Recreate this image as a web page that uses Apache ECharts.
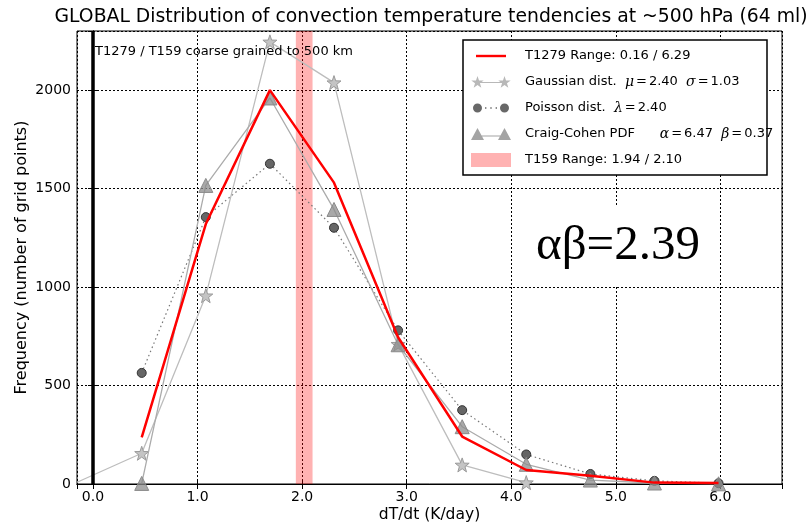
<!DOCTYPE html>
<html>
<head>
<meta charset="utf-8">
<script src="https://cdn.jsdelivr.net/npm/echarts@6/dist/echarts.min.js"></script>
<style>
html,body{margin:0;padding:0;background:#fff;}
#chart{width:810px;height:525px;}
</style>
</head>
<body>
<div id="chart"></div>
<script>
// ---------------- data ----------------
const binCentres = [0.466, 1.079, 1.692, 2.305, 2.918, 3.531, 4.144, 4.757, 5.370, 5.983];
const t1279Vals  = [237, 1320, 2000, 1530, 745, 241, 71, 42, 7, 5];
const gaussX     = [-0.147, 0.466, 1.079, 1.692, 2.305, 2.918, 3.531, 4.144];
const gaussVals  = [10, 156, 956, 2245, 2038, 710, 97, 7];
const poissonVals = [564, 1355, 1626, 1301, 780, 375, 150, 51, 16, 4];
const craigVals   = [3, 1516, 1960, 1394, 707, 291, 100, 20, 5, 1];
const t159Range   = [1.94, 2.10];
const zeroLineX   = 0;

const titleText = 'GLOBAL Distribution of convection temperature tendencies at ~500 hPa (64 ml)';
const noteText = 'T1279 / T159 coarse grained to 500 km';
const abText = 'αβ=2.39';
const xName = 'dT/dt (K/day)';
const yName = 'Frequency (number of grid points)';

const N_T1279 = 'T1279 Range: 0.16 / 6.29';
const N_GAUSS = 'Gaussian dist.';
const N_POIS  = 'Poisson dist.';
const N_CRAIG = 'Craig-Cohen PDF';
const N_T159  = 'T159 Range: 1.94 / 2.10';
const legendRich = {};
legendRich[N_T1279] = N_T1279;
legendRich[N_GAUSS] = '{s|Gaussian dist.  }{m|μ}{e|=}{s|2.40  }{m|σ}{e|=}{s|1.03}';
legendRich[N_POIS]  = '{s|Poisson dist.  }{m|λ}{e|=}{s|2.40}';
legendRich[N_CRAIG] = '{s|Craig-Cohen PDF      }{m|α}{e|=}{s|6.47  }{m|β}{e|=}{s|0.37}';
legendRich[N_T159]  = N_T159;

// ---------------- styling helpers ----------------
function starPath(cx, cy, R, r) {
  let d = '';
  for (let k = 0; k < 10; k++) {
    const rad = (k % 2 === 0) ? R : r;
    const a = (-90 + 36 * k) * Math.PI / 180;
    const x = (cx + rad * Math.cos(a)).toFixed(2);
    const y = (cy + rad * Math.sin(a)).toFixed(2);
    d += (k === 0 ? 'M' : 'L') + x + ',' + y;
  }
  return d + 'Z';
}
const starSymbol = 'path://' + starPath(50, 50, 50, 20);
const B = 'M0,0M40,14';
const iconRed = 'path://' + B + 'M5,5.8L35,5.8L35,8.2L5,8.2Z';
const iconStar = 'path://' + B + starPath(6.5, 7.5, 6.5, 2.6) + starPath(33.5, 7.5, 6.5, 2.6) + 'M6.5,6.9L33.5,6.9L33.5,7.9L6.5,7.9Z';
const iconCirc = 'path://' + B + 'M2,7A4.5,4.5,0,1,1,11,7A4.5,4.5,0,1,1,2,7Z' +
  'M29,7A4.5,4.5,0,1,1,38,7A4.5,4.5,0,1,1,29,7Z' +
  'M14,6.3L15.4,6.3L15.4,7.7L14,7.7Z M19.3,6.3L20.7,6.3L20.7,7.7L19.3,7.7Z M24.6,6.3L26,6.3L26,7.7L24.6,7.7Z';
const iconTri = 'path://' + B + 'M6.5,1L13,13L0,13Z M33.5,1L40,13L27,13Z M6.5,8.5L33.5,8.5L33.5,9.5L6.5,9.5Z';

const FONT = 'DejaVu Sans';
const grid = {left: 77, right: 28, top: 31, bottom: 41};
const xMin = -0.153, xMax = 6.59, yMin = 0, yMax = 2300;

function pairs(xs, ys) { return ys.map((v, i) => [xs[i], v]); }

const chart = echarts.init(document.getElementById('chart'), null, {renderer: 'canvas'});
const option = {
  animation: false,
  backgroundColor: '#fff',
  title: {
    text: titleText, left: 431, top: 8, textAlign: 'center', padding: 0,
    textStyle: {fontFamily: FONT, fontSize: 18.8, fontWeight: 'normal', color: '#000'}
  },
  grid: Object.assign({show: true, borderColor: '#000', borderWidth: 1, backgroundColor: 'transparent',
    containLabel: false, outerBoundsMode: 'none'}, grid),
  xAxis: [{
    type: 'value', position: 'bottom', min: xMin, max: xMax, splitNumber: 7,
    axisLine: {show: true, lineStyle: {color: '#000', width: 1}},
    axisTick: {show: true, inside: true, length: 5, lineStyle: {color: '#000'}},
    axisLabel: {show: true, formatter: v => v.toFixed(1), showMinLabel: false, showMaxLabel: false,
      fontFamily: FONT, fontSize: 14, color: '#000', margin: 6},
    splitLine: {show: true, lineStyle: {color: '#000', width: 1, type: [2, 2]}},
    name: xName, nameLocation: 'middle', nameGap: 23, nameMoveOverlap: false,
    nameTextStyle: {fontFamily: FONT, fontSize: 15.5, color: '#000'}
  }, {
    type: 'value', position: 'top', min: xMin, max: xMax, splitNumber: 7,
    axisLine: {show: true, lineStyle: {color: '#000', width: 1}},
    axisTick: {show: true, inside: true, length: 5, lineStyle: {color: '#000'}},
    axisLabel: {show: false}, splitLine: {show: false}
  }],
  yAxis: [{
    type: 'value', position: 'left', min: yMin, max: yMax, interval: 500,
    axisLine: {show: true, lineStyle: {color: '#000', width: 1}},
    axisTick: {show: true, inside: true, length: 5, lineStyle: {color: '#000'}},
    axisLabel: {show: true, showMaxLabel: false, formatter: v => String(v),
      fontFamily: FONT, fontSize: 14, color: '#000', margin: 6},
    splitLine: {show: true, lineStyle: {color: '#000', width: 1, type: [2, 2]}},
    name: yName, nameLocation: 'middle', nameGap: 47, nameMoveOverlap: false,
    nameTextStyle: {fontFamily: FONT, fontSize: 16, color: '#000'}
  }, {
    type: 'value', position: 'right', min: yMin, max: yMax, interval: 500,
    axisLine: {show: true, lineStyle: {color: '#000', width: 1}},
    axisTick: {show: true, inside: true, length: 5, lineStyle: {color: '#000'}},
    axisLabel: {show: false}, splitLine: {show: false}
  }],
  legend: {
    orient: 'vertical', left: 463, top: 40, padding: [9, 8, 8, 8],
    itemWidth: 40, itemHeight: 14, itemGap: 12, z: 6,
    selectedMode: false,
    formatter: name => legendRich[name] || name,
    textStyle: {fontFamily: FONT, fontSize: 13, color: '#000', padding: [0, 0, 0, 9],
      rich: {
        s: {fontFamily: FONT, fontSize: 13, color: '#000'},
        m: {fontFamily: 'DejaVu Serif', fontStyle: 'italic', fontSize: 14, color: '#000'},
        e: {fontFamily: FONT, fontSize: 13, color: '#000', padding: [0, 2, 0, 2]}
      }},
    data: [
      {name: N_T1279, icon: iconRed, itemStyle: {color: '#ff0000', borderWidth: 0}},
      {name: N_GAUSS, icon: iconStar, itemStyle: {color: '#b8b8b8', borderWidth: 0}},
      {name: N_POIS, icon: iconCirc, itemStyle: {color: '#686868', borderWidth: 0}},
      {name: N_CRAIG, icon: iconTri, itemStyle: {color: '#a4a4a4', borderWidth: 0}},
      {name: N_T159, icon: 'rect', itemStyle: {color: 'rgba(255,0,0,0.3)', borderWidth: 0}}
    ]
  },
  graphic: [
    {type: 'rect', z: 3, shape: {x: 463, y: 40, width: 304, height: 135},
      style: {fill: '#fff', stroke: '#000', lineWidth: 1.5}},
    {type: 'rect', z: 3, shape: {x: 512, y: 206, width: 208, height: 80},
      style: {fill: '#fff'}},
    {type: 'text', z: 4, x: 618, y: 246,
      style: {text: abText, font: '49px "Liberation Serif"', fill: '#000', textAlign: 'center', textVerticalAlign: 'middle'}},
    {type: 'text', z: 4, x: 95, y: 52,
      style: {text: noteText, font: '13px "DejaVu Sans"', fill: '#000', textAlign: 'left', textVerticalAlign: 'middle'}}
  ],
  series: [
    {
      name: N_T159, type: 'line', data: [], z: 1, silent: true,
      itemStyle: {color: 'rgba(255,0,0,0.3)'},
      markArea: {silent: true, itemStyle: {color: 'rgba(255,0,0,0.3)', borderWidth: 0},
        data: [[{xAxis: t159Range[0]}, {xAxis: t159Range[1]}]]},
      markLine: {silent: true, symbol: ['none', 'none'], label: {show: false},
        lineStyle: {color: '#000', width: 3.5, type: 'solid'},
        data: [{xAxis: zeroLineX}]}
    },
    {
      name: N_GAUSS, type: 'line', z: 2,
      data: pairs(gaussX, gaussVals).map((p, i) => i === 0 ? {value: p, symbol: 'none'} : p),
      symbol: starSymbol, symbolSize: 14,
      lineStyle: {color: '#bdbdbd', width: 1.3},
      itemStyle: {color: '#c4c4c4', borderColor: '#9a9a9a', borderWidth: 1}
    },
    {
      name: N_POIS, type: 'line', z: 3,
      data: pairs(binCentres, poissonVals),
      symbol: 'circle', symbolSize: 9,
      lineStyle: {color: '#777', width: 1.2, type: [1.5, 3]},
      itemStyle: {color: '#666', borderColor: '#333', borderWidth: 1}
    },
    {
      name: N_CRAIG, type: 'line', z: 3,
      data: pairs(binCentres, craigVals),
      symbol: 'triangle', symbolSize: 14,
      lineStyle: {color: '#ababab', width: 1.3},
      itemStyle: {color: 'rgba(140,140,140,0.75)', borderColor: '#8a8a8a', borderWidth: 1}
    },
    {
      name: N_T1279, type: 'line', z: 5,
      data: pairs(binCentres, t1279Vals),
      symbol: 'none',
      lineStyle: {color: '#ff0000', width: 2.5}
    }
  ]
};
chart.setOption(option);
</script>
</body>
</html>
